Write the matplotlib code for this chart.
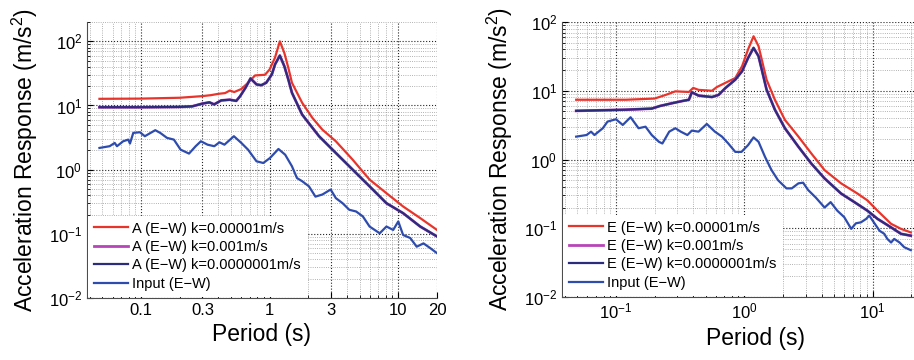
import matplotlib.pyplot as plt
from matplotlib.ticker import FixedLocator, LogLocator, NullFormatter

plt.rcParams['font.family'] = ['Liberation Sans', 'DejaVu Sans']
plt.rcParams['mathtext.default'] = 'regular'

# Panel A (left)
T_a_red = [0.0475, 0.1, 0.2, 0.3, 0.35, 0.4, 0.45, 0.49, 0.53, 0.6, 0.68, 0.77, 0.92, 1.0,
           1.1, 1.2, 1.3, 1.4, 1.49, 1.79, 2.15, 2.57, 3.27, 4.42, 5.98, 8.09, 10.9, 14.8, 20]
acc_a_red = [12.7, 12.8, 13.2, 14.0, 14.5, 15.2, 15.6, 17.1, 16.2, 18.0, 22.6, 29.4, 30.1, 36.5,
             55.6, 100, 66, 38, 22.6, 11, 6.4, 4.2, 2.77, 1.43, 0.70, 0.43, 0.267, 0.176, 0.115]

T_a_navy = [0.0475, 0.1, 0.2, 0.25, 0.3, 0.34, 0.37, 0.42, 0.49, 0.55, 0.59, 0.65, 0.71, 0.79,
            0.86, 0.94, 1.04, 1.1, 1.2, 1.3, 1.4, 1.49, 1.79, 2.42, 3.27, 4.42, 5.98, 8.09,
            10.9, 14.8, 20]
acc_a_navy = [9.4, 9.4, 9.5, 9.7, 10.7, 11.2, 10.4, 12.0, 12.3, 11.8, 14.0, 19, 26.4, 21.3,
              20.7, 22.6, 30.5, 43.6, 60, 41, 25, 15.8, 7.2, 3.32, 1.82, 1.0, 0.55, 0.30,
              0.21, 0.13, 0.091]
acc_a_mag = acc_a_navy  # k=0.001 curve lies under the k=0.0000001 curve

T_a_in = [0.0475, 0.057, 0.0624, 0.065, 0.0726, 0.0795, 0.082, 0.087, 0.098, 0.107, 0.129,
          0.141, 0.159, 0.180, 0.203, 0.236, 0.266, 0.292, 0.329, 0.371, 0.407, 0.445, 0.527,
          0.602, 0.679, 0.790, 0.892, 1.006, 1.17, 1.32, 1.49, 1.63, 1.79, 2.02, 2.27, 2.57,
          2.98, 3.27, 3.69, 4.16, 4.70, 5.30, 5.98, 7.17, 8.09, 9.13, 10.0, 10.9, 12.4, 13.9,
          15.7, 17.7, 20.0]
acc_a_in = [2.18, 2.32, 2.61, 2.32, 2.77, 2.94, 2.55, 3.74, 3.83, 3.32, 4.12, 3.74, 3.13, 2.94,
            2.05, 1.78, 2.32, 2.77, 2.45, 2.32, 2.67, 2.45, 3.32, 2.61, 2.05, 1.35, 1.27, 1.52,
            2.10, 1.71, 1.13, 0.74, 0.66, 0.55, 0.38, 0.41, 0.49, 0.36, 0.30, 0.237, 0.223,
            0.187, 0.130, 0.102, 0.130, 0.115, 0.156, 0.096, 0.086, 0.063, 0.071, 0.060, 0.050]

# Panel E (right)
T_e_red = [0.049, 0.12, 0.2, 0.244, 0.29, 0.37, 0.40, 0.44, 0.56, 0.61, 0.71, 0.85, 0.96, 1.07,
           1.18, 1.29, 1.49, 1.73, 2.07, 2.64, 3.33, 4.22, 5.67, 7.6, 9.1, 10.9, 13.9, 16.6, 19.8]
acc_e_red = [7.4, 7.4, 7.7, 8.7, 9.8, 9.6, 11, 10.3, 10, 11.3, 13, 15.3, 22.7, 40,
             62, 44.6, 14.5, 7.4, 3.77, 2.15, 1.22, 0.70, 0.45, 0.32, 0.254, 0.18, 0.116, 0.098,
             0.087]

T_e_navy = [0.049, 0.12, 0.19, 0.22, 0.275, 0.33, 0.37, 0.39, 0.44, 0.56, 0.63, 0.71, 0.85,
            0.96, 1.07, 1.18, 1.29, 1.49, 1.73, 2.07, 2.64, 3.33, 4.22, 5.67, 7.2, 9.1, 10.9,
            13.9, 16.6, 19.8]
acc_e_navy = [5.1, 5.3, 5.5, 6.0, 6.6, 7.1, 7.4, 9.5, 8.5, 8.1, 8.7, 10.9, 14.5, 19.2, 30, 42,
              31.8, 10.4, 5.3, 2.85, 1.53, 0.87, 0.53, 0.32, 0.24, 0.18, 0.137, 0.103, 0.083,
              0.078]
acc_e_mag = acc_e_navy

T_e_in = [0.049, 0.059, 0.064, 0.068, 0.079, 0.086, 0.1, 0.113, 0.13, 0.15, 0.17, 0.19, 0.216,
          0.23, 0.26, 0.29, 0.32, 0.36, 0.39, 0.44, 0.51, 0.59, 0.67, 0.75, 0.85, 0.95, 1.07,
          1.18, 1.29, 1.45, 1.63, 1.83, 2.13, 2.34, 2.64, 2.87, 3.14, 3.6, 4.22, 4.7, 5.3, 6.0,
          6.8, 7.4, 8.1, 8.9, 9.4, 10.2, 11.3, 12.3, 13.0, 13.9, 14.7, 16.2, 17.6, 19.8]
acc_e_in = [2.15, 2.27, 2.54, 2.27, 2.85, 3.56, 3.85, 3.18, 4.12, 2.85, 3.0, 2.27, 1.81, 1.71,
            2.54, 2.85, 2.54, 2.27, 2.63, 2.54, 3.29, 2.54, 2.15, 1.71, 1.29, 1.29, 1.62, 2.1,
            1.81, 1.09, 0.70, 0.50, 0.38, 0.38, 0.45, 0.46, 0.36, 0.28, 0.20, 0.24, 0.18, 0.145,
            0.098, 0.118, 0.122, 0.137, 0.153, 0.122, 0.092, 0.083, 0.070, 0.062, 0.070, 0.062,
            0.053, 0.048]

c_red = '#e8352c'
c_mag = '#b845b8'
c_navy = '#2c2c7c'
c_blue = '#2d4cae'

fig = plt.figure(figsize=(9.14, 3.6), dpi=100)
ax1 = fig.add_axes([87 / 914, 62 / 360, 350 / 914, 276 / 360])
# right panel runs past the figure edge (cropped in the original)
ax2 = fig.add_axes([562 / 914, 63 / 360, 388 / 914, 275 / 360])

panels = [
    (ax1, 'A', T_a_red, acc_a_red, acc_a_mag, T_a_navy, acc_a_navy, T_a_in, acc_a_in, 200, 20),
    (ax2, 'E', T_e_red, acc_e_red, acc_e_mag, T_e_navy, acc_e_navy, T_e_in, acc_e_in, 100, 40),
]

for ax, tag, tr, ar, am, tn, an, ti, ai, ytop, xright in panels:
    ax.plot(tr, ar, color=c_red, lw=1.6, label=f'{tag} (E\u2212W) k=0.00001m/s')
    ax.plot(tn, am, color=c_mag, lw=2.0, label=f'{tag} (E\u2212W) k=0.001m/s')
    ax.plot(tn, an, color=c_navy, lw=1.6, label=f'{tag} (E\u2212W) k=0.0000001m/s')
    ax.plot(ti, ai, color=c_blue, lw=1.6, label='Input (E\u2212W)')
    ax.set_xscale('log')
    ax.set_yscale('log')
    ax.set_ylim(0.01, ytop)
    ax.set_xlim(0.038, xright)
    ax.set_yticks([0.01, 0.1, 1, 10, 100])
    ax.yaxis.set_minor_locator(LogLocator(base=10, subs=range(2, 10), numticks=20))
    ax.yaxis.set_minor_formatter(NullFormatter())
    ax.xaxis.set_minor_locator(LogLocator(base=10, subs=range(2, 10), numticks=20))
    ax.xaxis.set_minor_formatter(NullFormatter())
    ax.grid(True, which='major', linestyle=':', color='0.15', lw=0.8)
    ax.grid(True, which='minor', linestyle=':', color='0.6', lw=0.6)
    ax.set_axisbelow(True)
    for s in ['top', 'right']:
        ax.spines[s].set_visible(False)
    ax.spines['left'].set_color('0.3')
    ax.spines['bottom'].set_color('0.3')
    ax.tick_params(which='both', direction='in', labelsize=12, top=False, right=False)
    ax.tick_params(which='major', length=4)
    ax.tick_params(which='minor', length=2)
    ax.set_xlabel('Period (s)', fontsize=16.5)
    ax.set_ylabel('Acceleration Response (m/s$^2$)', fontsize=16.5)
    leg = ax.legend(loc='lower left', fontsize=10.5, frameon=True, fancybox=False,
                    framealpha=1, facecolor='white', edgecolor='none',
                    handlelength=2.3, labelspacing=0.3, handletextpad=0.3,
                    borderaxespad=0.1, borderpad=0.4)

ax1.xaxis.set_major_locator(FixedLocator([0.1, 0.3, 1, 3, 10, 20]))
ax1.set_xticklabels(['0.1', '0.3', '1', '3', '10', '20'])
ax1.yaxis.labelpad = 6
ax2.yaxis.labelpad = 6

fig.savefig('out.png', dpi=100)
